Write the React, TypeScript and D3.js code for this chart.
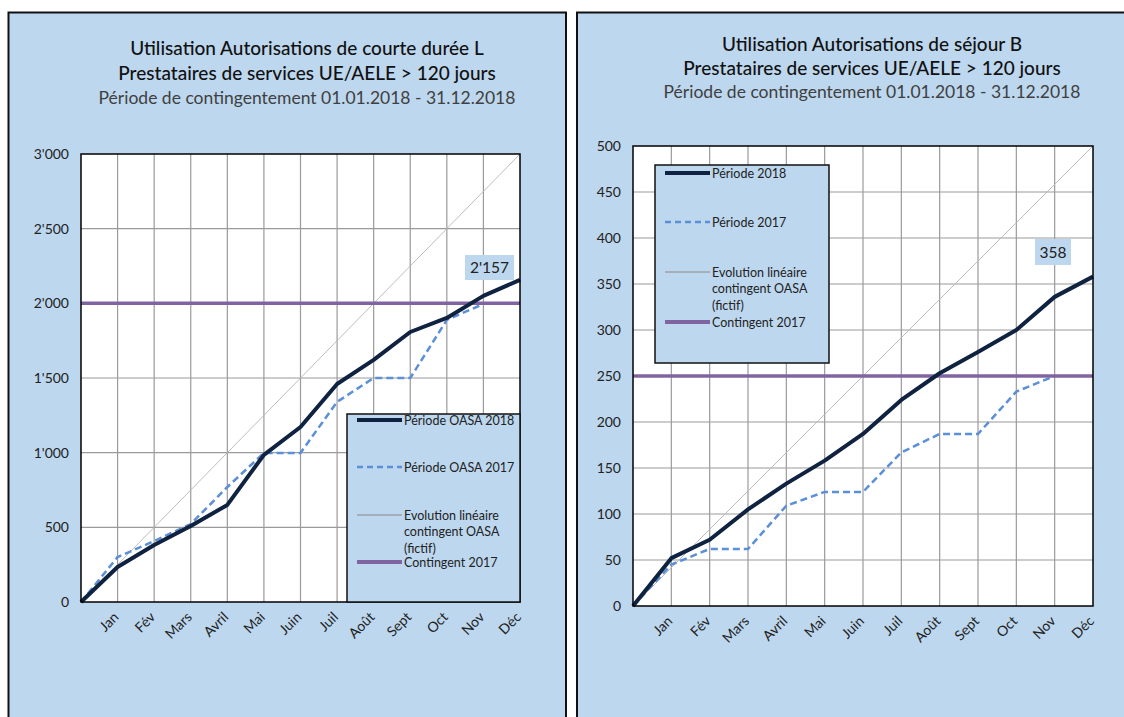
import * as React from 'react';
import * as d3 from 'd3';

const months = ['Jan', 'Fév', 'Mars', 'Avril', 'Mai', 'Juin', 'Juil', 'Août', 'Sept', 'Oct', 'Nov', 'Déc'];

// chart L (courte durée)
const shortTicks = [0, 500, 1000, 1500, 2000, 2500, 3000];
const short2018 = [0, 234, 382, 509, 650, 985, 1172, 1460, 1621, 1808, 1902, 2050, 2157];
const short2017 = [0, 301, 408, 522, 770, 998, 998, 1340, 1500, 1500, 1889, 1996];
const shortLinear = [0, 3000];
const shortQuota = 2000;
const shortLegend = ['Période OASA 2018', 'Période OASA 2017', 'Evolution linéaire|contingent OASA|(fictif)', 'Contingent 2017'];

// chart B (séjour)
const stayTicks = [0, 50, 100, 150, 200, 250, 300, 350, 400, 450, 500];
const stay2018 = [0, 52, 72, 105, 133, 158, 187, 224, 253, 276, 300, 336, 358];
const stay2017 = [0, 45, 62, 62, 109, 124, 124, 167, 187, 187, 233, 250];
const stayLinear = [0, 500];
const stayQuota = 250;
const stayLegend = ['Période 2018', 'Période 2017', 'Evolution linéaire|contingent OASA|(fictif)', 'Contingent 2017'];

const FONT = 'Lato, "Open Sans", sans-serif';
const PANEL = '#BDD7EE';

const loc = d3.formatLocale({ decimal: '.', thousands: "'", grouping: [3], currency: ['', ''] });
const fmt = loc.format(',');

interface Props {
  panel: [number, number];
  plot: { x0: number; x1: number; y0: number; y1: number };
  titles: string[];
  titleX: number;
  titleY: number[];
  ticks: number[];
  s2018: number[];
  s2017: number[];
  linear: number[];
  quota: number;
  legend: string[];
  legendBox: [number, number, number, number];
  legendY: number[];
  label: [number, number, number, number];
}

const Chart: React.FC<Props> = (p) => {
  const ref = React.useRef<SVGGElement>(null);

  React.useEffect(() => {
    const g = d3.select(ref.current);
    g.selectAll('*').remove();

    g.append('rect')
      .attr('x', p.panel[0]).attr('y', 12.5)
      .attr('width', p.panel[1] - p.panel[0]).attr('height', 720)
      .attr('fill', PANEL).attr('stroke', '#111').attr('stroke-width', 2);

    p.titles.forEach((t, i) => {
      g.append('text')
        .attr('x', p.titleX).attr('y', p.titleY[i])
        .attr('text-anchor', 'middle')
        .attr('font-family', FONT)
        .attr('font-size', i < 2 ? 19 : 17.5)
        .attr('font-weight', i < 2 ? 500 : 400)
        .attr('fill', i < 2 ? '#111' : '#404040')
        .text(t);
    });

    const { x0, x1, y0, y1 } = p.plot;
    const x = d3.scaleLinear().domain([0, 12]).range([x0, x1]);
    const y = d3.scaleLinear().domain([0, d3.max(p.ticks)!]).range([y0, y1]);

    g.append('rect').attr('x', x0).attr('y', y1)
      .attr('width', x1 - x0).attr('height', y0 - y1).attr('fill', '#fff');

    // grid
    g.append('g').selectAll('line').data(d3.range(1, 12)).join('line')
      .attr('x1', d => x(d)).attr('x2', d => x(d))
      .attr('y1', y1).attr('y2', y0)
      .attr('stroke', '#9a9a9a').attr('stroke-width', 1.2);
    g.append('g').selectAll('line').data(p.ticks.slice(1, -1)).join('line')
      .attr('x1', x0).attr('x2', x1)
      .attr('y1', d => y(d)).attr('y2', d => y(d))
      .attr('stroke', '#9a9a9a').attr('stroke-width', 1.2);

    const line = d3.line<number>().x((d, i) => x(i)).y(d => y(d));

    // linear evolution
    g.append('line')
      .attr('x1', x(0)).attr('y1', y(p.linear[0]))
      .attr('x2', x(12)).attr('y2', y(p.linear[1]))
      .attr('stroke', '#b5b5b5').attr('stroke-width', 0.9);

    g.append('path').attr('d', line(p.s2017)!)
      .attr('fill', 'none').attr('stroke', '#5b8fd8')
      .attr('stroke-width', 2.5).attr('stroke-dasharray', '7,4');

    g.append('line')
      .attr('x1', x0).attr('x2', x1)
      .attr('y1', y(p.quota)).attr('y2', y(p.quota))
      .attr('stroke', '#8064a2').attr('stroke-width', 3.5);

    g.append('path').attr('d', line(p.s2018)!)
      .attr('fill', 'none').attr('stroke', '#0f2341')
      .attr('stroke-width', 4).attr('stroke-linejoin', 'round');

    g.append('rect').attr('x', x0).attr('y', y1)
      .attr('width', x1 - x0).attr('height', y0 - y1)
      .attr('fill', 'none').attr('stroke', '#000').attr('stroke-width', 1.5);

    // y labels
    g.append('g').selectAll('text').data(p.ticks).join('text')
      .attr('x', x0 - 12).attr('y', d => y(d) + 5)
      .attr('text-anchor', 'end')
      .attr('font-family', FONT).attr('font-size', 14).attr('fill', '#222')
      .text(d => fmt(d));

    // x labels
    g.append('g').selectAll('text').data(months).join('text')
      .attr('transform', (d, i) => `translate(${x(i + 1) + 2},${y0 + 16}) rotate(-45)`)
      .attr('text-anchor', 'end')
      .attr('font-family', FONT).attr('font-size', 14).attr('fill', '#222')
      .text(d => d);

    // last value label
    const [lx0, ly0, lx1, ly1] = p.label;
    g.append('rect').attr('x', lx0).attr('y', ly0)
      .attr('width', lx1 - lx0).attr('height', ly1 - ly0).attr('fill', PANEL);
    g.append('text')
      .attr('x', (lx0 + lx1) / 2).attr('y', (ly0 + ly1) / 2 + 5.5)
      .attr('text-anchor', 'middle')
      .attr('font-family', FONT).attr('font-size', 15.5).attr('fill', '#222')
      .text(fmt(p.s2018[p.s2018.length - 1]));

    // legend
    const [bx0, by0, bx1, by1] = p.legendBox;
    g.append('rect').attr('x', bx0).attr('y', by0)
      .attr('width', bx1 - bx0).attr('height', by1 - by0)
      .attr('fill', PANEL).attr('stroke', '#111').attr('stroke-width', 1.5);

    const styles = [
      { c: '#0f2341', w: 4, dash: '' },
      { c: '#5b8fd8', w: 2.5, dash: '6,4' },
      { c: '#8a8a8a', w: 1, dash: '' },
      { c: '#8064a2', w: 4, dash: '' },
    ];
    p.legend.forEach((t, i) => {
      const ly = p.legendY[i];
      const s = styles[i];
      g.append('line')
        .attr('x1', bx0 + 10).attr('x2', bx0 + 55)
        .attr('y1', ly).attr('y2', ly)
        .attr('stroke', s.c).attr('stroke-width', s.w)
        .attr('stroke-dasharray', s.dash);
      t.split('|').forEach((part, k) => {
        g.append('text')
          .attr('x', bx0 + 57).attr('y', ly + 4.5 + k * 16.5)
          .attr('font-family', FONT).attr('font-size', 12.5).attr('fill', '#222')
          .text(part);
      });
    });
  });

  return <g ref={ref} />;
};

const App: React.FC = () => {
  return (
    <svg width={1124} height={717} style={{ position: 'absolute', left: 0, top: 0, background: '#fff' }}>
      <Chart
        panel={[8.5, 566]}
        plot={{ x0: 81, x1: 520, y0: 602, y1: 154 }}
        titles={['Utilisation Autorisations de courte durée L', 'Prestataires de services UE/AELE > 120 jours', 'Période de contingentement 01.01.2018 - 31.12.2018']}
        titleX={307}
        titleY={[55, 80, 104]}
        ticks={shortTicks}
        s2018={short2018}
        s2017={short2017}
        linear={shortLinear}
        quota={shortQuota}
        legend={shortLegend}
        legendBox={[347, 414, 520, 602]}
        legendY={[420, 467, 515, 562]}
        label={[465, 255, 514, 280]}
      />
      <Chart
        panel={[577, 1140]}
        plot={{ x0: 633, x1: 1093, y0: 606, y1: 146 }}
        titles={['Utilisation Autorisations de séjour B', 'Prestataires de services UE/AELE > 120 jours', 'Période de contingentement 01.01.2018 - 31.12.2018']}
        titleX={872}
        titleY={[51, 75, 98]}
        ticks={stayTicks}
        s2018={stay2018}
        s2017={stay2017}
        linear={stayLinear}
        quota={stayQuota}
        legend={stayLegend}
        legendBox={[655, 165, 829, 363]}
        legendY={[173, 222, 272, 322]}
        label={[1035, 239, 1071, 265]}
      />
    </svg>
  );
};

export default App;
